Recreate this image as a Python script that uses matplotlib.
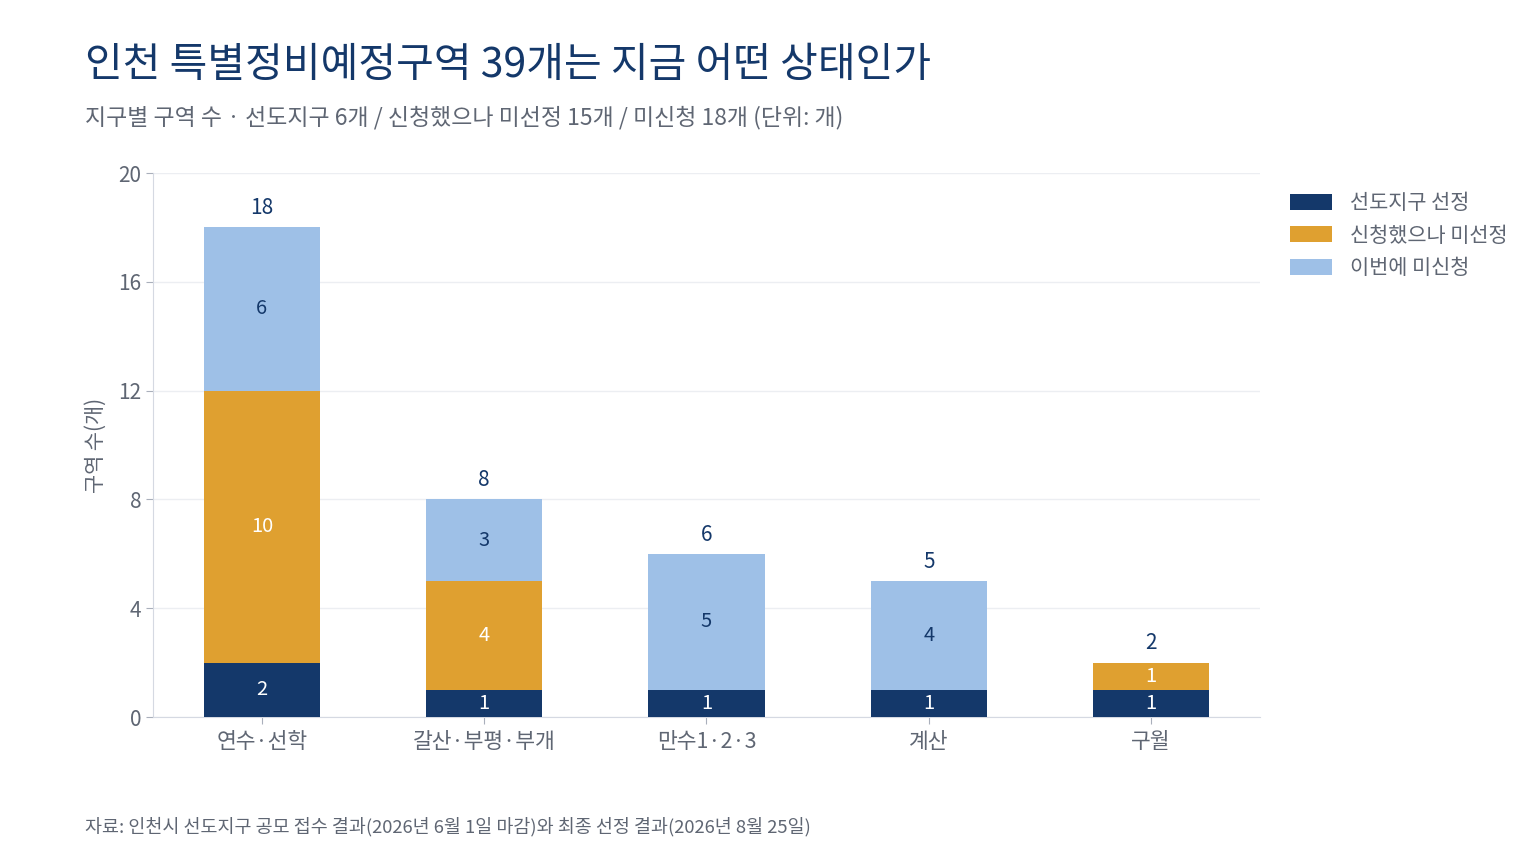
import numpy as np
import matplotlib
matplotlib.use('Agg')
import matplotlib.pyplot as plt

plt.rcParams['font.family'] = ['Noto Sans CJK KR', 'DejaVu Sans']

# 데이터
districts = ['연수·선학', '갈산·부평·부개', '만수1·2·3', '계산', '구월']
selected = [2, 1, 1, 1, 1]
applied_not = [10, 4, 0, 0, 1]
not_applied = [6, 3, 5, 4, 0]
series_names = ['선도지구 선정', '신청했으나 미선정', '이번에 미신청']

NAVY = '#14386A'
ORANGE = '#DFA030'
LIGHT = '#9EC0E7'
GREY = '#5F6673'

fig = plt.figure(figsize=(15.36, 8.64), dpi=100)
ax = fig.add_axes([153 / 1536, 1 - 717 / 864, 1107 / 1536, 544 / 864])

x = np.arange(len(districts))
w = 0.522
s1 = np.array(selected)
s2 = np.array(applied_not)
s3 = np.array(not_applied)

ax.bar(x, s1, w, color=NAVY, label=series_names[0], zorder=3)
ax.bar(x, s2, w, bottom=s1, color=ORANGE, label=series_names[1], zorder=3)
ax.bar(x, s3, w, bottom=s1 + s2, color=LIGHT, label=series_names[2], zorder=3)

# 구간 라벨
for vals, bottoms, col in [(s1, np.zeros_like(s1), 'white'),
                           (s2, s1, 'white'),
                           (s3, s1 + s2, NAVY)]:
    for xi, v, b in zip(x, vals, bottoms):
        if v > 0:
            ax.text(xi, b + v / 2, str(v), ha='center', va='center',
                    fontsize=14.5, color=col, zorder=4)

totals = s1 + s2 + s3
for xi, t in zip(x, totals):
    ax.text(xi, t + 0.3, str(t), ha='center', va='bottom', fontsize=15,
            color=NAVY, zorder=4)

ax.set_xlim(-0.49, len(districts) - 0.51)
ax.set_ylim(0, 20)
ax.set_yticks([0, 4, 8, 12, 16, 20])
ax.set_xticks(x)
ax.set_xticklabels(districts)
ax.tick_params(axis='both', labelsize=15, colors='#A9AFBB', labelcolor=GREY, length=5)
ax.tick_params(axis='x', labelsize=15.5, pad=5)
ax.grid(axis='y', color='#ECEEF2', linewidth=1, zorder=0)
for side in ['top', 'right']:
    ax.spines[side].set_visible(False)
for side in ['left', 'bottom']:
    ax.spines[side].set_color('#D5D9E2')
ax.set_ylabel('구역 수(개)', fontsize=15, color=GREY, labelpad=8)

leg = ax.legend(loc='upper left', bbox_to_anchor=(1.02, 0.98), frameon=False,
                fontsize=15, handlelength=2.0, handleheight=0.8,
                labelspacing=0.5, handletextpad=0.85, borderaxespad=0)
for t in leg.get_texts():
    t.set_color(GREY)

fig.text(85 / 1536, 1 - 65 / 864, '인천 특별정비예정구역 39개는 지금 어떤 상태인가',
         fontsize=29.5, color=NAVY, va='center', ha='left')
fig.text(85 / 1536, 1 - 118 / 864,
         '지구별 구역 수 · 선도지구 6개 / 신청했으나 미선정 15개 / 미신청 18개 (단위: 개)',
         fontsize=16.5, color=GREY, va='center', ha='left')
fig.text(85 / 1536, 1 - 827 / 864,
         '자료: 인천시 선도지구 공모 접수 결과(2026년 6월 1일 마감)와 최종 선정 결과(2026년 8월 25일)',
         fontsize=13.3, color=GREY, va='center', ha='left')

plt.savefig('out.png', dpi=100)
plt.close()
